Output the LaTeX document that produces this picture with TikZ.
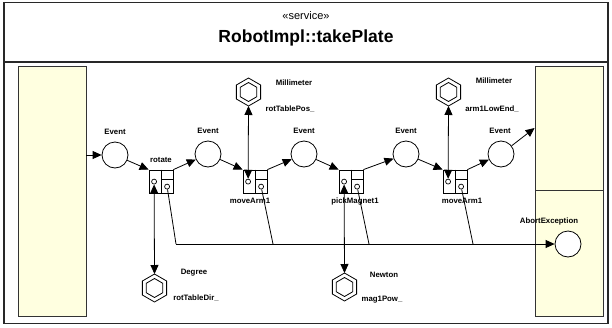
\documentclass[tikz,border=0pt]{standalone}
\usepackage{fontspec}
\setmainfont{Liberation Sans}
\usetikzlibrary{arrows.meta,calc}
\definecolor{panel}{RGB}{255,255,224}
\definecolor{frame}{RGB}{40,40,40}
\tikzset{
  tri/.tip={Triangle[length=9pt,width=8pt]},
  conn/.style={line width=0.8pt,black},
  lbl/.style={font=\fontsize{7.8}{9}\selectfont\bfseries,inner sep=0pt},
  evt/.style={circle,draw,line width=0.8pt,fill=white,minimum size=26pt,inner sep=0pt},
  abox/.style={draw,line width=0.8pt,fill=white,minimum width=24pt,minimum height=23pt,inner sep=0pt},
  pinc/.style={circle,draw,line width=0.7pt,minimum size=5pt,inner sep=0pt},
  hexl/.style={line width=0.8pt,draw=black},
  pnl/.style={draw=black!80,line width=0.8pt,fill=panel,inner sep=0pt}
}
\newcommand\actbox[3]{%
  \node[abox] (#1) at (#2,#3) {};
  \draw[line width=0.8pt] (#1.north) -- (#1.south);
  \draw[line width=0.8pt] ($(#1.north)+(0,10)$) -- ($(#1.north east)+(0,10)$);
  \node[pinc] (#1L) at ($(#1.north west)+(5.5,12)$) {};
  \node[pinc] (#1R) at ($(#1.north west)+(18.5,17)$) {};
}
\newcommand\hexnode[3]{%
  \coordinate (#1) at (#2,#3);
  \coordinate (#1top) at ($(#1)+(0,-14)$);
  \coordinate (#1bot) at ($(#1)+(0,14)$);
  \draw[hexl] (#1) +(90:14) -- +(150:14) -- +(210:14) -- +(270:14) -- +(330:14) -- +(30:14) -- cycle;
  \draw[hexl] (#1) +(90:9.5) -- +(150:9.5) -- +(210:9.5) -- +(270:9.5) -- +(330:9.5) -- +(30:9.5) -- cycle;
}
\begin{document}
\begin{tikzpicture}[x=1pt,y=-1pt]
\useasboundingbox (0,0) rectangle (612,327);
\fill[white] (0,0) rectangle (612,327);
% frame
\node[draw=frame,line width=1.6pt,minimum width=604pt,minimum height=321pt,inner sep=0pt] (frm) at (306,163) {};
\coordinate (sepL) at (4,62);
\coordinate (sepR) at (608,62);
\draw[frame,line width=1.6pt] (sepL) -- (sepR);
\node[inner sep=0pt,font=\fontsize{11}{13}\selectfont] (stereo) at (306,16) {«service»};
\node[inner sep=0pt,font=\fontsize{17.5}{20}\selectfont\bfseries] (title) at (306,38) {RobotImpl::takePlate};
% panels
\node[pnl,minimum width=68pt,minimum height=250pt] (lp) at (52,191) {};
\node[pnl,minimum width=68pt,minimum height=124pt] (rp1) at (569,128) {};
\node[pnl,minimum width=68pt,minimum height=126pt] (rp2) at (569,253) {};
% events
\node[evt] (e1) at (115,155) {};
\node[evt] (e2) at (208,154) {};
\node[evt] (e3) at (304,154) {};
\node[evt] (e4) at (406,154) {};
\node[evt] (e5) at (501,154) {};
\node[evt] (ab) at (568,244) {};
\node[lbl] (e1t) at (115,132) {Event};
\node[lbl] (e2t) at (208,131) {Event};
\node[lbl] (e3t) at (304,131) {Event};
\node[lbl] (e4t) at (406,131) {Event};
\node[lbl] (e5t) at (500,131) {Event};
\node[lbl] (abt) at (549,221) {AbortException};
% action boxes
\actbox{rot}{161}{181.5}
\actbox{ma}{255}{181.5}
\actbox{pm}{351}{181.5}
\actbox{mb}{455}{181.5}
\node[lbl] (rott) at (161,160) {rotate};
\node[lbl] (mat) at (250,201) {moveArm1};
\node[lbl] (pmt) at (355,201) {pickMagnet1};
\node[lbl] (mbt) at (462,201) {moveArm1};
% hexagons
\hexnode{h1}{248.5}{92}
\hexnode{h2}{448.5}{92}
\hexnode{h3}{154.5}{288}
\hexnode{h4}{344.5}{287}
\node[lbl] (h1a) at (294,83) {Millimeter};
\node[lbl] (h1b) at (290,109) {rotTablePos\_};
\node[lbl] (h2a) at (494,81) {Millimeter};
\node[lbl] (h2b) at (492,109) {arm1LowEnd\_};
\node[lbl] (h3a) at (194,273) {Degree};
\node[lbl] (h3b) at (196,298) {rotTableDir\_};
\node[lbl] (h4a) at (384,275) {Newton};
\node[lbl] (h4b) at (382,300) {mag1Pow\_};
% flow
\draw[conn,-tri] (lp.east |- e1) -- (e1);
\draw[conn,-tri] (e1) -- (rot.north west);
\draw[conn,-tri] (rot.north east) -- (e2);
\draw[conn,-tri] (e2) -- (ma.north west);
\draw[conn,-tri] (ma.north east) -- (e3);
\draw[conn,-tri] (e3) -- (pm.north west);
\draw[conn,-tri] (pm.north east) -- (e4);
\draw[conn,-tri] (e4) -- (mb.north west);
\draw[conn,-tri] (mb.north east) -- (e5);
\draw[conn,-tri] (e5) -- (rp1.west);
% parameter links
\draw[conn,tri-tri] (h1bot) -- (maL);
\draw[conn,tri-tri] (h2bot) -- (mbL);
\draw[conn,tri-tri] (h3top) -- (rotL);
\draw[conn,tri-tri] (h4top) -- (pmL);
% exception links
\coordinate (j1) at (176,244);
\coordinate (j2) at (273,244);
\coordinate (j3) at (369,244);
\coordinate (j4) at (473,244);
\draw[conn] (rotR) -- (j1);
\draw[conn] (maR) -- (j2);
\draw[conn] (pmR) -- (j3);
\draw[conn] (mbR) -- (j4);
\draw[conn,-tri] (j1) -- (ab);
\end{tikzpicture}
\end{document}
